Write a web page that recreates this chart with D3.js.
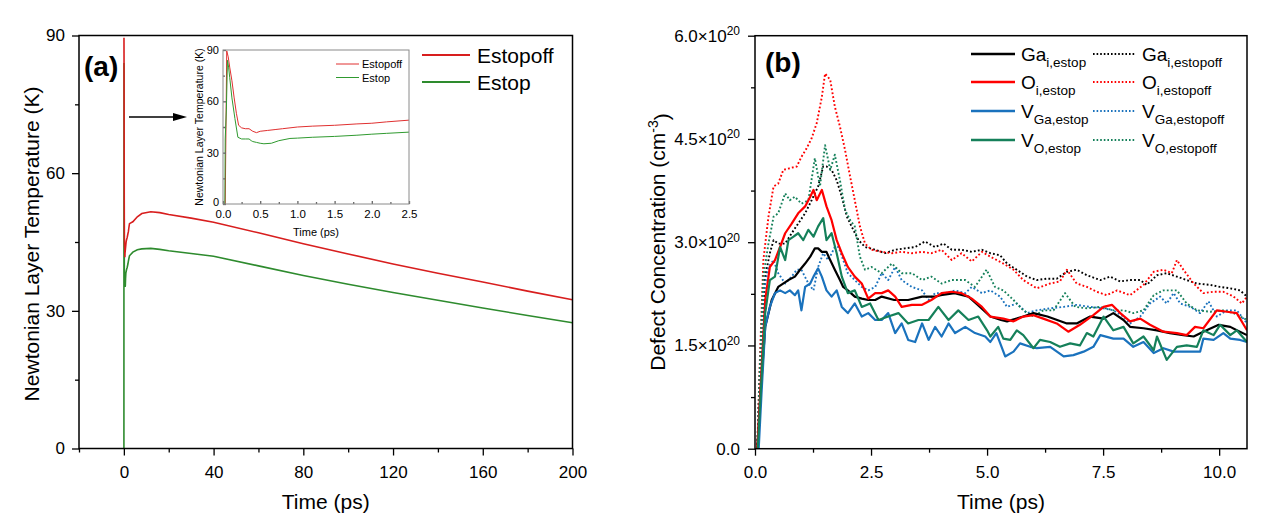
<!DOCTYPE html>
<html>
<head>
<meta charset="utf-8">
<script src="https://cdn.jsdelivr.net/npm/d3@7"></script>
<style>
  body { margin: 0; background: #fff; }
  svg { display: block; font-family: "Liberation Sans", Arial, sans-serif; }
</style>
</head>
<body>
<div id="chart"></div>
<script>
// ---- panel (a): Newtonian layer temperature, [time ps, K] ----
const estopoffTemp = [
  [0, 0], [0.03, 0], [0.05, 89.5], [0.07, 86], [0.09, 80], [0.12, 72], [0.15, 62], [0.18, 53],
  [0.21, 46], [0.25, 44.5], [0.3, 44], [0.35, 44], [0.4, 42.5], [0.45, 41.7], [0.5, 42.5],
  [0.6, 43], [0.7, 43.5], [0.8, 44], [1.0, 45], [1.2, 45.5], [1.5, 46], [1.8, 46.8], [2.0, 47.2],
  [2.2, 48], [2.5, 49], [4, 49.4], [6, 50.5], [8, 51.2], [12, 51.6], [16, 51.4], [20, 51],
  [30, 50.2], [40, 49.3], [60, 47], [80, 44.6], [100, 42.4], [120, 40.2], [140, 38.2],
  [160, 36.3], [180, 34.3], [200, 32.4]
];
const estopTemp = [
  [0, 0], [0.025, 0], [0.03, 38], [0.045, 55], [0.06, 84], [0.075, 80], [0.09, 74], [0.12, 62],
  [0.16, 50], [0.2, 39], [0.25, 38], [0.3, 38], [0.35, 38], [0.38, 37], [0.4, 36.5], [0.45, 36],
  [0.5, 35.5], [0.55, 35.2], [0.65, 35.5], [0.75, 37], [0.9, 38.3], [1.0, 38.5], [1.2, 39],
  [1.5, 39.5], [1.8, 40.2], [2.0, 40.8], [2.2, 41.3], [2.5, 42], [4, 42.8], [6, 43.3], [8, 43.5],
  [12, 43.6], [16, 43.4], [20, 43.1], [30, 42.5], [40, 41.9], [60, 39.8], [80, 37.7],
  [100, 35.8], [120, 34], [140, 32.3], [160, 30.6], [180, 29], [200, 27.4]
];
const xTicksA = [0, 40, 80, 120, 160, 200];
const xMinorA = [-20, 20, 60, 100, 140, 180];
const yTicksA = [0, 30, 60, 90];
const yMinorA = [15, 45, 75];
const xTicksInset = [0, 0.5, 1, 1.5, 2, 2.5];
const yTicksInset = [0, 30, 60, 90];

// ---- panel (b): defect concentration, [time ps, 1e20 cm^-3] ----
const gaEstop = [
  [0.05, 0], [0.12, 0.8], [0.22, 1.77], [0.36, 2.16], [0.5, 2.35], [0.72, 2.45], [0.86, 2.5],
  [0.97, 2.6], [1.08, 2.69], [1.19, 2.79], [1.29, 2.91], [1.36, 2.91], [1.44, 2.86], [1.54, 2.86],
  [1.62, 2.74], [1.72, 2.6], [1.83, 2.45], [1.9, 2.35], [2.0, 2.3], [2.15, 2.21], [2.3, 2.18],
  [2.44, 2.16], [2.59, 2.16], [2.73, 2.21], [3.0, 2.16], [3.3, 2.16], [3.6, 2.21], [3.88, 2.21],
  [4.0, 2.23], [4.3, 2.26], [4.6, 2.21], [4.8, 2.09], [5.07, 1.92], [5.3, 1.87], [5.43, 1.85],
  [5.78, 1.92], [6.0, 1.97], [6.3, 1.92], [6.72, 1.82], [6.93, 1.82], [7.22, 1.92], [7.51, 1.89],
  [7.72, 1.97], [7.94, 1.87], [8.08, 1.77], [8.37, 1.75], [8.66, 1.72], [8.94, 1.68], [9.23, 1.65],
  [9.45, 1.63], [9.66, 1.7], [9.99, 1.8], [10.24, 1.77], [10.38, 1.72], [10.6, 1.65]
];
const oEstop = [
  [0.05, 0], [0.12, 0.9], [0.22, 2.16], [0.32, 2.64], [0.43, 2.74], [0.54, 2.93], [0.65, 3.13],
  [0.79, 3.27], [0.93, 3.42], [1.08, 3.52], [1.19, 3.66], [1.26, 3.76], [1.33, 3.61], [1.44, 3.76],
  [1.54, 3.52], [1.65, 3.32], [1.76, 3.03], [1.87, 2.84], [2.0, 2.64], [2.15, 2.5], [2.3, 2.4],
  [2.44, 2.18], [2.59, 2.26], [2.73, 2.26], [2.87, 2.3], [3.02, 2.21], [3.16, 2.06], [3.38, 2.09],
  [3.6, 2.09], [3.8, 2.16], [4.02, 2.26], [4.24, 2.28], [4.45, 2.26], [4.67, 2.18], [4.89, 2.06],
  [5.07, 1.92], [5.35, 1.89], [5.57, 1.85], [5.78, 1.92], [6.0, 1.94], [6.21, 1.89], [6.5, 1.82],
  [6.75, 1.7], [7.0, 1.8], [7.29, 1.94], [7.51, 2.06], [7.69, 2.09], [7.87, 1.97], [8.08, 1.85],
  [8.3, 1.89], [8.51, 1.8], [8.8, 1.7], [9.09, 1.68], [9.3, 1.65], [9.48, 1.77], [9.66, 1.75],
  [9.95, 2.01], [10.17, 1.99], [10.38, 1.97], [10.6, 1.72]
];
const vGaEstop = [
  [0.08, 0], [0.14, 0.8], [0.22, 1.77], [0.32, 2.06], [0.43, 2.26], [0.54, 2.3], [0.65, 2.26],
  [0.75, 2.3], [0.86, 2.23], [0.93, 2.3], [1.0, 2.01], [1.08, 2.35], [1.19, 2.4], [1.26, 2.5],
  [1.36, 2.62], [1.44, 2.5], [1.54, 2.3], [1.65, 2.21], [1.76, 2.3], [1.87, 2.06], [2.0, 1.97],
  [2.15, 2.11], [2.3, 1.92], [2.44, 1.97], [2.59, 1.87], [2.73, 1.87], [2.87, 1.97], [3.02, 1.68],
  [3.16, 1.82], [3.3, 1.58], [3.45, 1.55], [3.6, 1.82], [3.74, 1.58], [3.88, 1.77], [4.02, 1.63],
  [4.17, 1.82], [4.31, 1.68], [4.53, 1.77], [4.74, 1.68], [4.96, 1.63], [5.07, 1.55], [5.2, 1.68],
  [5.39, 1.34], [5.57, 1.41], [5.71, 1.53], [5.93, 1.48], [6.07, 1.46], [6.36, 1.48], [6.65, 1.34],
  [6.86, 1.36], [7.08, 1.41], [7.29, 1.48], [7.44, 1.65], [7.72, 1.6], [7.94, 1.6], [8.15, 1.48],
  [8.37, 1.55], [8.59, 1.39], [8.8, 1.46], [9.02, 1.41], [9.23, 1.41], [9.59, 1.41], [9.66, 1.6],
  [9.88, 1.58], [10.09, 1.68], [10.24, 1.6], [10.45, 1.58], [10.6, 1.55]
];
const vOEstop = [
  [0.06, 0], [0.13, 0.9], [0.22, 1.97], [0.32, 2.45], [0.43, 2.5], [0.54, 2.93], [0.65, 2.74],
  [0.72, 3.03], [0.83, 3.08], [0.93, 3.13], [1.04, 3.03], [1.15, 3.18], [1.26, 3.08], [1.36, 3.23],
  [1.47, 3.35], [1.54, 3.03], [1.65, 3.13], [1.76, 2.84], [1.87, 2.5], [2.0, 2.26], [2.15, 2.3],
  [2.3, 2.06], [2.48, 2.11], [2.66, 1.87], [2.87, 1.92], [3.09, 1.97], [3.3, 1.82], [3.52, 1.87],
  [3.74, 1.87], [3.95, 2.06], [4.17, 1.87], [4.38, 2.01], [4.6, 1.87], [4.81, 1.92], [5.0, 1.72],
  [5.07, 1.63], [5.24, 1.77], [5.35, 1.6], [5.5, 1.58], [5.64, 1.72], [5.78, 1.65], [6.0, 1.46],
  [6.14, 1.58], [6.36, 1.55], [6.57, 1.48], [6.79, 1.53], [7.0, 1.5], [7.15, 1.68], [7.29, 1.63],
  [7.51, 1.92], [7.72, 1.72], [7.94, 1.77], [8.15, 1.53], [8.37, 1.63], [8.59, 1.43], [8.66, 1.63],
  [8.87, 1.29], [9.09, 1.48], [9.3, 1.5], [9.52, 1.48], [9.66, 1.72], [9.88, 1.65], [10.02, 1.8],
  [10.24, 1.65], [10.38, 1.72], [10.6, 1.55]
];
const gaEstopoff = [
  [0.05, 0], [0.1, 1.0], [0.22, 2.5], [0.32, 2.84], [0.4, 3.03], [0.5, 2.98], [0.65, 2.98],
  [0.79, 3.13], [0.93, 3.27], [1.08, 3.42], [1.22, 3.61], [1.36, 3.81], [1.47, 4.1], [1.54, 4.1],
  [1.65, 4.05], [1.76, 3.9], [1.87, 3.66], [1.98, 3.37], [2.08, 3.23], [2.23, 3.03], [2.37, 2.93],
  [2.59, 2.89], [2.8, 2.84], [3.02, 2.89], [3.23, 2.91], [3.45, 2.93], [3.66, 3.01], [3.88, 2.93],
  [4.06, 2.98], [4.24, 2.89], [4.45, 2.89], [4.67, 2.86], [4.89, 2.89], [5.07, 2.84], [5.28, 2.81],
  [5.43, 2.69], [5.64, 2.6], [5.86, 2.5], [6.07, 2.45], [6.29, 2.47], [6.5, 2.47], [6.72, 2.57],
  [6.93, 2.6], [7.15, 2.52], [7.44, 2.45], [7.65, 2.5], [7.87, 2.43], [8.08, 2.45], [8.3, 2.45],
  [8.44, 2.38], [8.66, 2.52], [8.87, 2.55], [9.09, 2.5], [9.3, 2.45], [9.52, 2.4], [9.81, 2.38],
  [10.02, 2.35], [10.24, 2.33], [10.45, 2.3], [10.6, 2.21]
];
const oEstopoff = [
  [0.05, 0], [0.1, 1.2], [0.18, 2.74], [0.29, 3.37], [0.4, 3.81], [0.5, 3.85], [0.61, 4.05],
  [0.72, 4.07], [0.9, 4.1], [1.0, 4.24], [1.11, 4.36], [1.22, 4.51], [1.33, 4.73], [1.44, 5.11],
  [1.51, 5.45], [1.62, 5.36], [1.72, 4.97], [1.83, 4.68], [1.94, 4.34], [2.05, 3.95], [2.15, 3.61],
  [2.26, 3.23], [2.37, 2.98], [2.51, 2.89], [2.73, 2.86], [2.95, 2.84], [3.16, 2.86], [3.38, 2.84],
  [3.6, 2.86], [3.8, 2.84], [4.02, 2.89], [4.24, 2.74], [4.45, 2.84], [4.67, 2.72], [4.89, 2.86],
  [5.07, 2.79], [5.35, 2.69], [5.57, 2.6], [5.78, 2.45], [6.07, 2.33], [6.36, 2.4], [6.57, 2.43],
  [6.72, 2.6], [6.93, 2.4], [7.15, 2.35], [7.36, 2.28], [7.58, 2.23], [7.8, 2.3], [8.08, 2.23],
  [8.37, 2.38], [8.59, 2.57], [8.8, 2.6], [8.98, 2.55], [9.09, 2.74], [9.23, 2.6], [9.45, 2.4],
  [9.66, 2.26], [9.88, 2.28], [10.09, 2.28], [10.31, 2.21], [10.49, 2.11], [10.6, 2.21]
];
const vGaEstopoff = [
  [0.05, 0], [0.1, 1.0], [0.18, 2.26], [0.29, 2.64], [0.4, 2.74], [0.5, 2.55], [0.65, 2.4],
  [0.79, 2.5], [0.9, 2.6], [1.0, 2.6], [1.15, 2.4], [1.26, 2.3], [1.36, 2.64], [1.47, 2.84],
  [1.58, 2.74], [1.72, 2.93], [1.8, 2.93], [1.9, 2.74], [2.0, 2.55], [2.15, 2.45], [2.3, 2.35],
  [2.44, 2.3], [2.59, 2.35], [2.73, 2.55], [2.87, 2.45], [3.02, 2.64], [3.16, 2.45], [3.38, 2.35],
  [3.6, 2.3], [3.74, 2.16], [3.88, 2.26], [4.1, 2.26], [4.31, 2.3], [4.53, 2.26], [4.67, 2.35],
  [4.89, 2.26], [5.07, 2.3], [5.28, 2.21], [5.43, 2.06], [5.64, 2.11], [5.86, 1.97], [6.07, 2.01],
  [6.36, 2.04], [6.65, 2.06], [6.93, 2.09], [7.22, 2.06], [7.51, 2.04], [7.72, 2.01], [7.94, 1.92],
  [8.08, 1.82], [8.3, 1.92], [8.51, 2.11], [8.73, 2.21], [8.87, 2.11], [9.02, 2.26], [9.16, 2.11],
  [9.38, 2.06], [9.59, 1.97], [9.77, 2.14], [9.95, 1.92], [10.17, 2.01], [10.38, 2.01], [10.6, 1.82]
];
const vOEstopoff = [
  [0.05, 0], [0.1, 1.1], [0.18, 2.5], [0.29, 2.98], [0.4, 3.37], [0.5, 3.42], [0.65, 3.71],
  [0.75, 3.61], [0.86, 3.66], [1.0, 3.56], [1.15, 3.61], [1.29, 4.22], [1.4, 3.81], [1.51, 4.41],
  [1.62, 4.05], [1.72, 4.27], [1.83, 3.9], [1.94, 3.47], [2.05, 3.32], [2.15, 3.23], [2.26, 2.79],
  [2.37, 2.6], [2.51, 2.64], [2.73, 2.55], [2.95, 2.69], [3.16, 2.55], [3.38, 2.55], [3.6, 2.45],
  [3.8, 2.5], [4.02, 2.4], [4.24, 2.45], [4.53, 2.45], [4.74, 2.35], [4.99, 2.6], [5.17, 2.35],
  [5.35, 2.3], [5.57, 2.16], [5.78, 2.01], [6.0, 1.92], [6.21, 2.01], [6.43, 2.01], [6.68, 2.26],
  [6.9, 2.06], [7.15, 2.04], [7.44, 2.06], [7.72, 2.01], [7.94, 2.01], [8.15, 1.97], [8.37, 2.01],
  [8.59, 2.23], [8.8, 2.3], [9.09, 2.3], [9.3, 2.11], [9.52, 2.01], [9.81, 1.99], [10.09, 2.01],
  [10.31, 1.97], [10.6, 1.87]
];
const xTicksB = [0, 2.5, 5, 7.5, 10];
const xMinorB = [1.25, 3.75, 6.25, 8.75];
const yTicksB = [0, 1.5, 3, 4.5, 6];
const yMinorB = [0.75, 2.25, 3.75, 5.25];

const svg = d3.select('#chart')
  .append('svg')
  .attr('width', 1277)
  .attr('height', 528);

svg.append('rect').attr('width', 1277).attr('height', 528).attr('fill', '#fff');

function frame(x, y, stroke, w) {
  svg.append('rect')
    .attr('x', x.range()[0])
    .attr('y', y.range()[1])
    .attr('width', x.range()[1] - x.range()[0])
    .attr('height', y.range()[0] - y.range()[1])
    .attr('fill', 'none')
    .attr('stroke', stroke)
    .attr('stroke-width', w);
}

// draws a major + minor axis, removes d3 defaults so the frame rect is the spine
function axis(gen, minorGen, transform, fontSize, stroke) {
  const g = svg.append('g').attr('transform', transform).call(gen);
  g.attr('font-family', null).attr('font-size', fontSize);
  g.select('.domain').remove();
  g.selectAll('.tick line').attr('stroke', stroke).attr('stroke-width', 1.3);
  g.selectAll('.tick text').attr('fill', '#000');
  if (minorGen) {
    const m = svg.append('g').attr('transform', transform).call(minorGen);
    m.select('.domain').remove();
    m.selectAll('.tick line').attr('stroke', stroke).attr('stroke-width', 1.3);
  }
  return g;
}

// ================= panel (a) =================
const xA = d3.scaleLinear().domain([-20, 200]).range([79, 572.5]);
const yA = d3.scaleLinear().domain([0, 90]).range([448.5, 35.5]);
const lineA = d3.line().x(d => xA(d[0])).y(d => yA(d[1]));

svg.append('path').datum(estopTemp).attr('d', lineA)
  .attr('fill', 'none').attr('stroke', '#2e8b2e').attr('stroke-width', 1.6);
svg.append('path').datum(estopoffTemp.filter(d => d[1] > 80 || d[0] > 0.15)).attr('d', lineA)
  .attr('fill', 'none').attr('stroke', '#d81e1e').attr('stroke-width', 1.6);

axis(d3.axisBottom(xA).tickValues(xTicksA).tickSize(7).tickPadding(10),
     d3.axisBottom(xA).tickValues(xMinorA).tickSize(4).tickFormat(''),
     `translate(0, ${yA(0)})`, 17, '#000');
axis(d3.axisLeft(yA).tickValues(yTicksA).tickSize(7).tickPadding(7),
     d3.axisLeft(yA).tickValues(yMinorA).tickSize(4).tickFormat(''),
     `translate(${xA(-20)}, 0)`, 17, '#000');
frame(xA, yA, '#000', 1.5);

svg.append('text').attr('x', 84).attr('y', 76)
  .attr('font-size', 28).attr('font-weight', 'bold').text('(a)');
svg.append('text').attr('x', (xA.range()[0] + xA.range()[1]) / 2).attr('y', 509)
  .attr('text-anchor', 'middle').attr('font-size', 21).text('Time (ps)');
svg.append('text').attr('transform', 'translate(39, 244) rotate(-90)')
  .attr('text-anchor', 'middle').attr('font-size', 21).text('Newtonian Layer Temperature (K)');

// legend (a)
const legendA = [
  { label: 'Estopoff', color: '#d81e1e', y: 55 },
  { label: 'Estop', color: '#2e8b2e', y: 82 }
];
legendA.forEach(d => {
  svg.append('line').attr('x1', 422).attr('x2', 470).attr('y1', d.y).attr('y2', d.y)
    .attr('stroke', d.color).attr('stroke-width', 1.8);
  svg.append('text').attr('x', 477).attr('y', d.y + 7.5).attr('font-size', 21).text(d.label);
});

// arrow to inset
svg.append('line').attr('x1', 129).attr('x2', 176).attr('y1', 117).attr('y2', 117)
  .attr('stroke', '#000').attr('stroke-width', 1.5);
svg.append('path').attr('d', 'M173,113L187,117L173,121Z').attr('fill', '#000');

// inset
const xI = d3.scaleLinear().domain([0, 2.5]).range([223, 409]);
const yI = d3.scaleLinear().domain([0, 90]).range([204, 50]);
const lineI = d3.line().x(d => xI(d[0])).y(d => yI(d[1]));
svg.append('rect').attr('x', 223).attr('y', 50).attr('width', 186).attr('height', 154).attr('fill', '#fff');
svg.append('path').datum(estopoffTemp.filter(d => d[0] <= 2.5)).attr('d', lineI)
  .attr('fill', 'none').attr('stroke', '#e03030').attr('stroke-width', 1);
svg.append('path').datum(estopTemp.filter(d => d[0] <= 2.5)).attr('d', lineI)
  .attr('fill', 'none').attr('stroke', '#2f9a2f').attr('stroke-width', 1);

axis(d3.axisBottom(xI).tickValues(xTicksInset).tickSize(-3).tickPadding(6).tickFormat(d3.format('.1f')),
     d3.axisBottom(xI).tickValues([0.25, 0.75, 1.25, 1.75, 2.25]).tickSize(-2).tickFormat(''),
     `translate(0, ${yI(0)})`, 11.5, '#666');
axis(d3.axisLeft(yI).tickValues(yTicksInset).tickSize(-3).tickPadding(4),
     d3.axisLeft(yI).tickValues([15, 45, 75]).tickSize(-2).tickFormat(''),
     `translate(${xI(0)}, 0)`, 11, '#666')
  .selectAll('.tick text').attr('dy', d => d === 0 ? '0.1em' : '0.32em');
frame(xI, yI, '#8a8a8a', 1);
svg.append('text').attr('x', 316).attr('y', 236)
  .attr('text-anchor', 'middle').attr('font-size', 11).text('Time (ps)');
svg.append('text').attr('transform', 'translate(203, 127) rotate(-90)')
  .attr('text-anchor', 'middle').attr('font-size', 10.5).text('Newtonian Layer Temperature (K)');
const legendI = [
  { label: 'Estopoff', color: '#e03030', y: 64 },
  { label: 'Estop', color: '#2f9a2f', y: 77.5 }
];
legendI.forEach(d => {
  svg.append('line').attr('x1', 336).attr('x2', 359).attr('y1', d.y).attr('y2', d.y)
    .attr('stroke', d.color).attr('stroke-width', 1);
  svg.append('text').attr('x', 362).attr('y', d.y + 4).attr('font-size', 11).text(d.label);
});

// ================= panel (b) =================
const xB = d3.scaleLinear().domain([0, 10.6]).range([755, 1247]);
const yB = d3.scaleLinear().domain([0, 6]).range([448.7, 35.7]);
const lineB = d3.line().x(d => xB(d[0])).y(d => yB(d[1]));

const defects = [
  { data: gaEstopoff, base: 'Ga', sub: 'i,estopoff', color: '#000000', dotted: true, col: 1, row: 0 },
  { data: oEstopoff, base: 'O', sub: 'i,estopoff', color: '#ff0000', dotted: true, col: 1, row: 1 },
  { data: vGaEstopoff, base: 'V', sub: 'Ga,estopoff', color: '#1a72bd', dotted: true, col: 1, row: 2 },
  { data: vOEstopoff, base: 'V', sub: 'O,estopoff', color: '#15805a', dotted: true, col: 1, row: 3 },
  { data: gaEstop, base: 'Ga', sub: 'i,estop', color: '#000000', dotted: false, col: 0, row: 0 },
  { data: oEstop, base: 'O', sub: 'i,estop', color: '#ff0000', dotted: false, col: 0, row: 1 },
  { data: vGaEstop, base: 'V', sub: 'Ga,estop', color: '#1a72bd', dotted: false, col: 0, row: 2 },
  { data: vOEstop, base: 'V', sub: 'O,estop', color: '#15805a', dotted: false, col: 0, row: 3 }
];

svg.append('clipPath').attr('id', 'clipB').append('rect')
  .attr('x', 755).attr('y', 35.7).attr('width', 492).attr('height', 413);

svg.append('g').attr('clip-path', 'url(#clipB)')
  .selectAll('path')
  .data(defects)
  .enter()
  .append('path')
  .attr('d', d => lineB(d.data))
  .attr('fill', 'none')
  .attr('stroke', d => d.color)
  .attr('stroke-width', d => d.dotted ? 1.9 : 2.2)
  .attr('stroke-dasharray', d => d.dotted ? '1.8,2.2' : null)
  .attr('stroke-linejoin', 'round');

axis(d3.axisBottom(xB).tickValues(xTicksB).tickSize(7).tickPadding(10).tickFormat(d3.format('.1f')),
     d3.axisBottom(xB).tickValues(xMinorB).tickSize(4).tickFormat(''),
     `translate(0, ${yB(0)})`, 17, '#000');
const gyb = axis(d3.axisLeft(yB).tickValues(yTicksB).tickSize(7).tickPadding(8).tickFormat(''),
     d3.axisLeft(yB).tickValues(yMinorB).tickSize(4).tickFormat(''),
     `translate(${xB(0)}, 0)`, 17, '#000');
gyb.selectAll('.tick text').each(function (v) {
  const t = d3.select(this);
  if (v === 0) { t.text('0.0'); return; }
  t.append('tspan').text(v.toFixed(1) + '×10');
  t.append('tspan').attr('dy', '-0.55em').attr('font-size', 12).text('20');
});
frame(xB, yB, '#000', 1.5);

svg.append('text').attr('x', 765).attr('y', 72)
  .attr('font-size', 28).attr('font-weight', 'bold').text('(b)');
svg.append('text').attr('x', (xB.range()[0] + xB.range()[1]) / 2).attr('y', 509)
  .attr('text-anchor', 'middle').attr('font-size', 21).text('Time (ps)');
const yTitleB = svg.append('text').attr('transform', 'translate(665, 242) rotate(-90)')
  .attr('text-anchor', 'middle').attr('font-size', 21);
yTitleB.append('tspan').text('Defect Concentration (cm');
yTitleB.append('tspan').attr('dy', '-0.5em').attr('font-size', 14).text('-3');
yTitleB.append('tspan').attr('dy', '0.5em').text(')');

// legend (b)
const legendCols = [{ x1: 971, x2: 1015, tx: 1021 }, { x1: 1093, x2: 1135, tx: 1142 }];
const legendRows = [54, 82, 111, 140];
defects.forEach(d => {
  const c = legendCols[d.col];
  const y = legendRows[d.row];
  svg.append('line').attr('x1', c.x1).attr('x2', c.x2).attr('y1', y).attr('y2', y)
    .attr('stroke', d.color).attr('stroke-width', d.dotted ? 1.8 : 2.5)
    .attr('stroke-dasharray', d.dotted ? '1.6,2' : null);
  const t = svg.append('text').attr('x', c.tx).attr('y', y + 7).attr('font-size', 19);
  t.append('tspan').text(d.base);
  t.append('tspan').attr('dy', 6).attr('font-size', 13.5).text(d.sub);
});
</script>
</body>
</html>
